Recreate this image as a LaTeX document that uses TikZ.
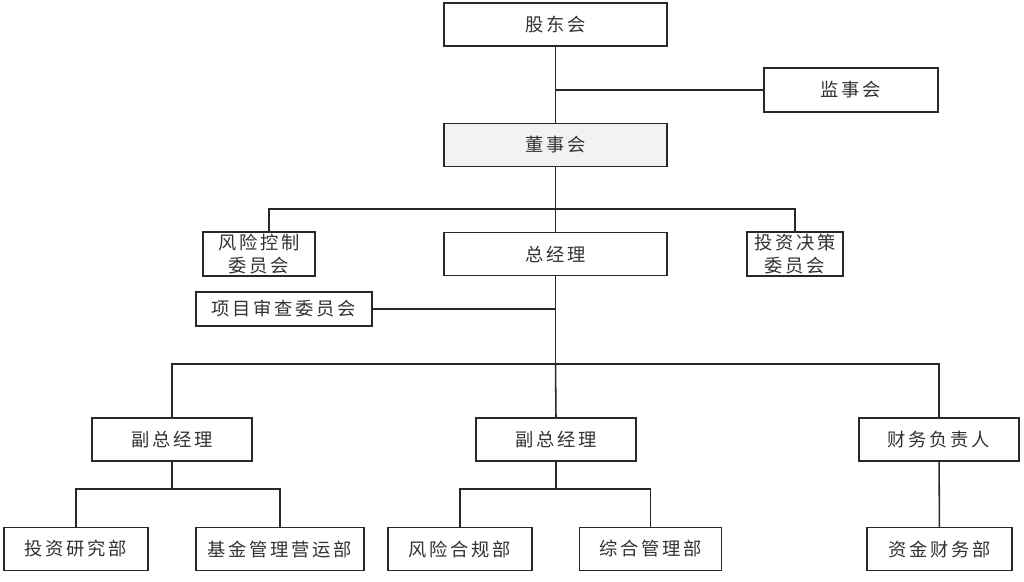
\documentclass[tikz,border=0pt]{standalone}
\usepackage{fontspec}
\newfontfamily\cjk[LetterSpace=15]{Noto Sans CJK SC}
\usepackage{tikz}
\usetikzlibrary{positioning,calc}
\definecolor{orgline}{RGB}{40,40,40}
\definecolor{orgtext}{RGB}{50,50,50}
\definecolor{orggray}{RGB}{242,242,242}
\tikzset{
  org/.style={draw=orgline,line width=1.1pt,fill=white,inner sep=0pt,outer sep=0pt,
              font=\cjk\fontsize{13}{16}\selectfont,text=orgtext,align=center},
  orgwide/.style={org,minimum width=5.575cm,minimum height=1.075cm},
  orgmid/.style={org,minimum width=4.0cm,minimum height=1.075cm},
  orgdept/.style={org,minimum width=3.6cm,minimum height=1.075cm},
  orggrey/.style={orgwide,fill=orggray},
  link/.style={draw=orgline,line width=1.1pt},
}
\begin{document}
\begin{tikzpicture}[x=0.025cm,y=-0.025cm]
  \useasboundingbox (0,0) rectangle (1024,581);
  % top level
  \node[orgwide](GD)  at (555.5,24.5) {股东会};
  \node[org,minimum width=4.35cm,minimum height=1.1cm](JSH) at (851,90) {监事会};
  \node[orggrey](DSH) at (555.5,145) {董事会};
  \node[orgwide](ZJL) at (555.5,254) {总经理};
  \node[org,minimum width=2.8cm,minimum height=1.1cm](FK) at (259,254) {风险控制\\委员会};
  \node[org,minimum width=2.4cm,minimum height=1.1cm](TJ) at (795,254) {投资决策\\委员会};
  \node[org,minimum width=4.4cm,minimum height=0.85cm](XM) at (284,309) {项目审查委员会};
  % second level
  \node[orgmid](FZ1) at (172,439.5) {副总经理};
  \node[orgmid](FZ2) at (556,439.5) {副总经理};
  \node[orgmid](CW)  at (939,439.5) {财务负责人};
  % departments
  \node[orgdept](TY)  at (76,549) {投资研究部};
  \node[orgdept,minimum width=4.2cm](JJ) at (280,549) {基金管理营运部};
  \node[orgdept](FX)  at (460,549) {风险合规部};
  \node[orgdept,minimum width=3.55cm](ZH) at (650.5,549) {综合管理部};
  \node[orgdept,minimum width=3.625cm](ZJ) at (939.5,549) {资金财务部};

  \coordinate (barA) at (555.5,209);
  \coordinate (fkin) at (269,232);
  \coordinate (barB) at (555.5,364);
  \coordinate (barC) at (172,489);
  \coordinate (barD) at (556,489);

  \draw[link](GD) -- (DSH);
  \draw[link](JSH.west) -- (JSH.west -| GD);
  \draw[link](DSH) -- (ZJL);
  \draw[link](fkin) |- (barA) -| (TJ.north);
  \draw[link](XM.east) -- (XM.east -| ZJL);
  \draw[link](ZJL.south) -- (barB);
  \draw[link](FZ1.north) |- (barB) -| (CW.north);
  \draw[link](barB) -- (FZ2.north);
  \draw[link](FZ1.south) -- (barC);
  \draw[link](TY.north) |- (barC) -| (JJ.north);
  \draw[link](FZ2.south) -- (barD);
  \draw[link](FX.north) |- (barD) -| (ZH.north);
  \draw[link](CW) -- (ZJ);
\end{tikzpicture}
\end{document}
